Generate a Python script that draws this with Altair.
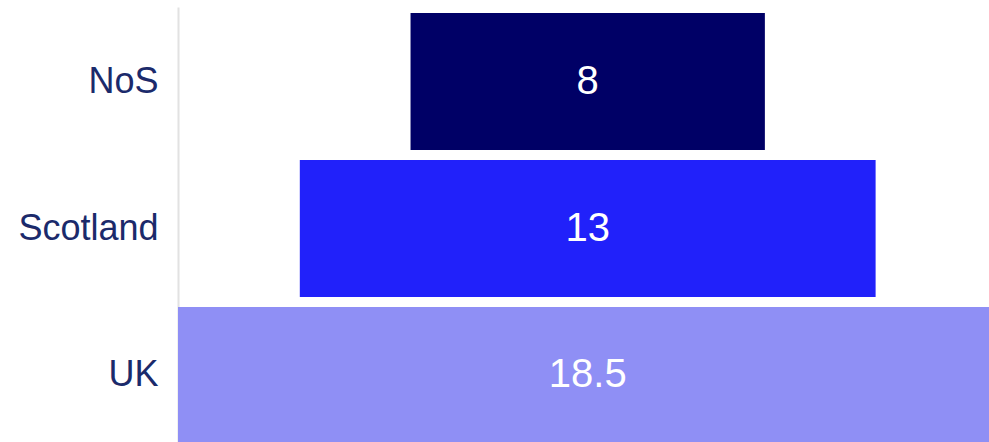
import altair as alt
import pandas as pd

regions = ["NoS", "Scotland", "UK"]
values = [8, 13, 18.5]
labels = ["8", "13", "18.5"]
colors = ["#000066", "#2121FA", "#8F8FF5"]

df = pd.DataFrame({"region": regions, "value": values, "label": labels})

y_enc = alt.Y(
    "region:N",
    sort=regions,
    title=None,
    scale=alt.Scale(range=[0, 443], paddingInner=0.068, paddingOuter=0.041),
    axis=alt.Axis(
        ticks=False,
        labelPadding=20,
        labelFontSize=36,
        labelFont="Liberation Sans",
        labelColor="#1B2A6B",
        domainColor="#E2E2E2",
        domainWidth=2,
        grid=False,
        labelLimit=300,
    ),
)

x_scale = alt.Scale(domain=[-9.25, 9.06], nice=False, zero=False)

base = alt.Chart(df).transform_calculate(
    lo="-datum.value/2", hi="datum.value/2", mid="0"
)

bars = base.mark_bar(clip=True).encode(
    y=y_enc,
    x=alt.X("lo:Q", scale=x_scale, axis=None),
    x2="hi:Q",
    color=alt.Color(
        "region:N",
        scale=alt.Scale(domain=regions, range=colors),
        legend=None,
    ),
)

text = base.mark_text(
    color="white",
    fontSize=40,
    font="Liberation Sans",
    baseline="middle",
    align="center",
    clip=True,
).encode(
    y=alt.Y("region:N", sort=regions),
    x=alt.X("mid:Q", scale=x_scale, axis=None),
    text="label:N",
)

chart = (
    alt.layer(bars, text)
    .properties(
        width=811,
        height=435,
        autosize=alt.AutoSizeParams(type="none"),
        padding={"left": 178, "top": 7, "right": 0, "bottom": 0},
    )
    .configure(background="white", view=alt.ViewConfig(strokeWidth=0, stroke=None))
)

chart.save("out.html", embed_options={"renderer": "svg", "actions": False})
